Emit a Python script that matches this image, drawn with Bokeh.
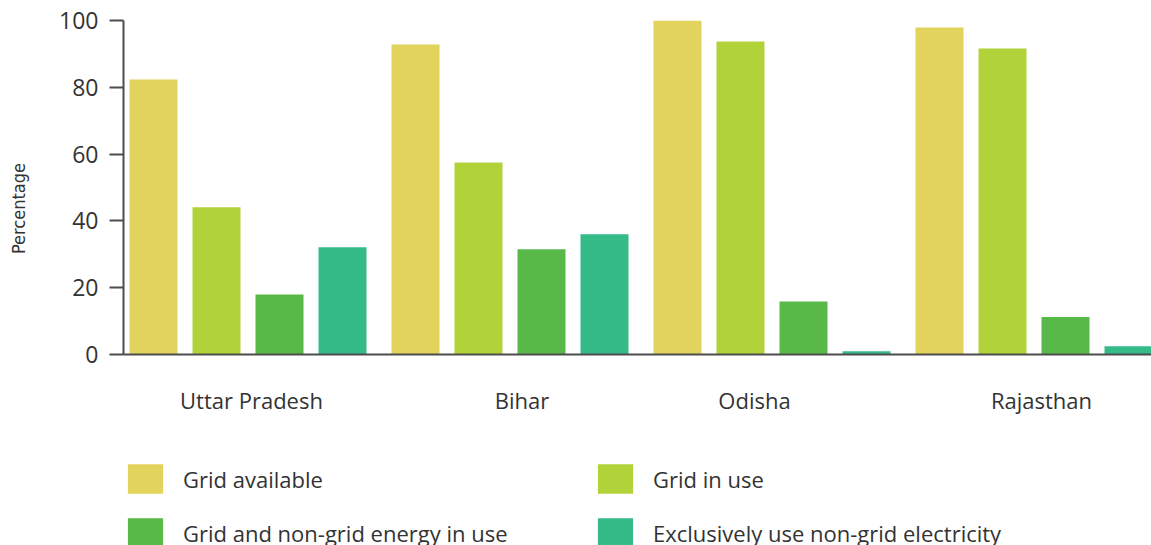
from math import pi
from bokeh.plotting import figure
from bokeh.layouts import column
from bokeh.models import Legend, LegendItem, FixedTicker, Range1d, Label
from bokeh.embed import file_html
from bokeh.resources import INLINE

# ---- data ----
states = ["Uttar Pradesh", "Bihar", "Odisha", "Rajasthan"]
series_names = ["Grid available", "Grid in use",
                "Grid and non-grid energy in use",
                "Exclusively use non-grid electricity"]
grid_available = [82.3, 92.8, 100.0, 97.9]
grid_in_use = [44.1, 57.5, 93.7, 91.6]
grid_and_nongrid = [18.0, 31.5, 15.9, 11.2]
exclusively_nongrid = [32.1, 36.0, 1.0, 2.5]
y_ticks = [0, 20, 40, 60, 80, 100]

# ---- styling / layout ----
colors = ["#E2D35C", "#B2D23A", "#58B948", "#35BB88"]
FONT = "Open Sans"
TXT = "#333333"
AX = "#4d4d4d"
W = 1151
H_MAIN, H_LEG = 440, 105
FRAME_LEFT, FRAME_TOP, FRAME_H = 123, 20, 334
FRAME_W = W - FRAME_LEFT
GROUP_PX = 262.0
bar_step = 63.0 / GROUP_PX
bar_w = 48.0 / GROUP_PX
x_start = -124.5 / GROUP_PX
label_nudge_px = [3.5, 12.0, -17.5, 7.5]

p = figure(width=W, height=H_MAIN, output_backend="svg", toolbar_location=None,
           x_range=Range1d(x_start, x_start + FRAME_W / GROUP_PX),
           y_range=Range1d(0, 100),
           min_border_left=FRAME_LEFT, min_border_top=FRAME_TOP,
           min_border_bottom=H_MAIN - FRAME_TOP - FRAME_H, min_border_right=0,
           frame_width=FRAME_W, frame_height=FRAME_H)
p.outline_line_color = None
p.xgrid.visible = False
p.ygrid.visible = False

all_series = [grid_available, grid_in_use, grid_and_nongrid, exclusively_nongrid]
for j, vals in enumerate(all_series):
    xs = [i + (j - 1.5) * bar_step for i in range(len(states))]
    p.vbar(x=xs, top=vals, bottom=0, width=bar_w,
           fill_color=colors[j], line_color=None)

# y axis
ya = p.yaxis[0]
ya.ticker = FixedTicker(ticks=y_ticks)
ya.axis_line_color = AX
ya.axis_line_width = 2
ya.major_tick_line_color = AX
ya.major_tick_line_width = 2
ya.major_tick_out = 14
ya.major_tick_in = 0
ya.minor_tick_line_color = None
ya.major_label_standoff = 11
ya.major_label_text_font = FONT
ya.major_label_text_font_size = "23px"
ya.major_label_text_color = TXT

# x axis
xa = p.xaxis[0]
tick_pos = [i + label_nudge_px[i] / GROUP_PX for i in range(len(states))]
xa.ticker = FixedTicker(ticks=tick_pos)
xa.major_label_overrides = {t: s for t, s in zip(tick_pos, states)}
xa.axis_line_color = AX
xa.axis_line_width = 2
xa.major_tick_line_color = None
xa.minor_tick_line_color = None
xa.major_label_standoff = 24
xa.major_label_text_font = FONT
xa.major_label_text_font_size = "22px"
xa.major_label_text_color = TXT

# y axis title, placed in the left side panel
p.add_layout(Label(x=-17, y=146, x_units="screen", y_units="screen",
                   text="Percentage", angle=pi / 2,
                   text_align="center", text_baseline="middle",
                   text_font="'Liberation Sans Narrow', 'DejaVu Sans Condensed', 'Liberation Sans'",
                   text_font_size="18px", text_color=TXT), "left")

# legend figure (its frame is aligned with the main frame by the column layout)
lf = figure(width=W, height=H_LEG, output_backend="svg", toolbar_location=None,
            x_range=Range1d(0, 1), y_range=Range1d(0, 1),
            x_axis_location=None, y_axis_location=None,
            min_border=0)
lf.outline_line_color = None
lf.xgrid.visible = False
lf.ygrid.visible = False
keys = []
for j, vals in enumerate(all_series):
    r = lf.vbar(x=list(range(len(states))), top=vals, width=0.5,
                fill_color=colors[j], line_color=None, visible=False)
    keys.append(r)

def make_legend(idx, loc):
    return Legend(items=[LegendItem(label=series_names[k], renderers=[keys[k]]) for k in idx],
                  location=loc, orientation="vertical",
                  glyph_width=44, glyph_height=37, spacing=17, label_standoff=16,
                  padding=0, margin=0, border_line_color=None,
                  background_fill_alpha=0, inactive_fill_alpha=0,
                  label_text_font=FONT, label_text_font_size="22px",
                  label_text_color=TXT)

lf.add_layout(make_legend([0, 2], (0, -6)))
lf.add_layout(make_legend([1, 3], (470, -6)))

layout = column(p, lf, spacing=0)
open("out.html", "w").write(file_html(layout, INLINE))
